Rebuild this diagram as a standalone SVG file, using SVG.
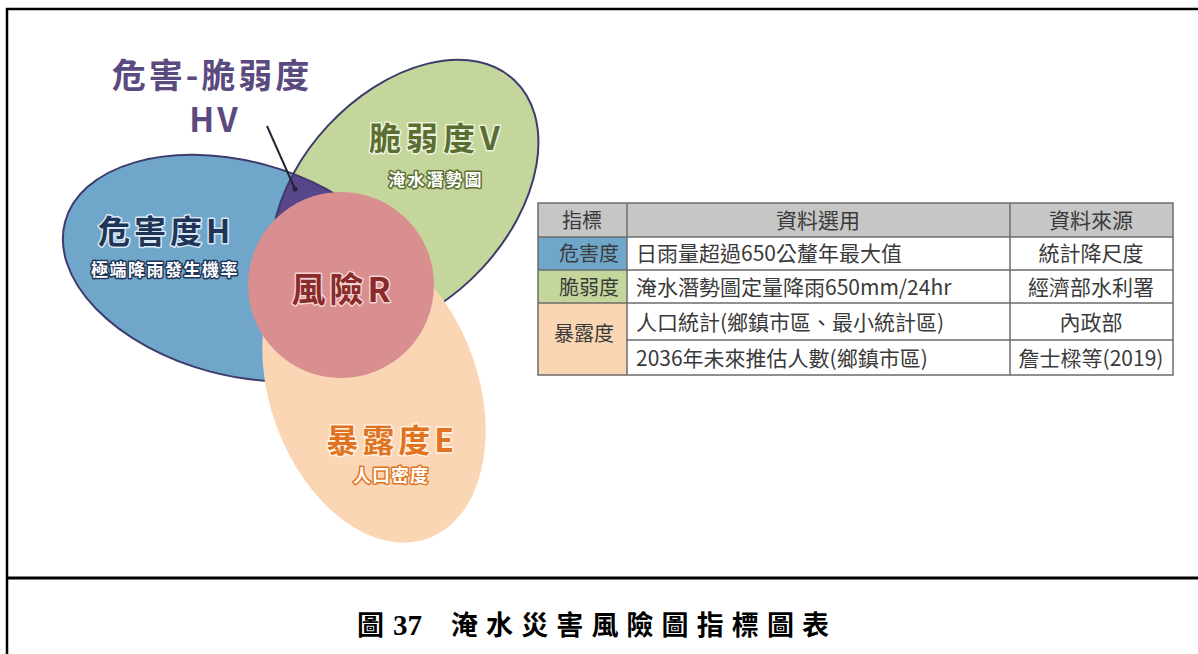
<svg xmlns="http://www.w3.org/2000/svg" width="1198" height="654" viewBox="0 0 1198 654">
<defs>
<style>
.big{font-family:"Noto Sans CJK TC","Noto Sans CJK SC",sans-serif;font-weight:700;text-anchor:middle;paint-order:stroke;stroke-linejoin:round;}
.small{font-family:"Noto Sans CJK TC","Noto Sans CJK SC",sans-serif;font-weight:700;text-anchor:middle;fill:#ffffff;paint-order:stroke;stroke-width:3;stroke-linejoin:round;}
.cell{font-family:"Noto Sans CJK TC","Noto Sans CJK SC",sans-serif;font-size:21px;fill:#3a3a3a;}
.c1{font-family:"Noto Sans CJK TC","Noto Sans CJK SC",sans-serif;font-size:20px;fill:#3a3a3a;text-anchor:middle;}
.grid{stroke:#6b6b6b;stroke-width:1.5;fill:none;}
.frame{stroke:#000;fill:none;}
</style>
<clipPath id="blueClip">
<ellipse cx="237" cy="268" rx="178" ry="107" transform="rotate(15 237 268)"/>
</clipPath>
</defs>

<g id="frame">
<line class="frame" x1="6" y1="9" x2="1198" y2="9" stroke-width="2.5"/>
<line class="frame" x1="7" y1="8" x2="7" y2="654" stroke-width="2.5"/>
<line class="frame" x1="6" y1="578" x2="1198" y2="578" stroke-width="3"/>
</g>

<g id="hazard">
<ellipse cx="237" cy="268" rx="178" ry="107" transform="rotate(15 237 268)" fill="#70a6ca"/>
</g>
<g id="vulnerability">
<ellipse cx="405" cy="197" rx="160" ry="105" transform="rotate(-47 405 197)" fill="#c4d69c"/>
</g>
<g id="hv-overlap" clip-path="url(#blueClip)">
<ellipse cx="405" cy="197" rx="160" ry="105" transform="rotate(-47 405 197)" fill="#574689"/>
</g>
<g id="outlines">
<ellipse cx="237" cy="268" rx="178" ry="107" transform="rotate(15 237 268)" fill="none" stroke="#3d3c6c" stroke-width="2"/>
<ellipse cx="405" cy="197" rx="160" ry="105" transform="rotate(-47 405 197)" fill="none" stroke="#3d3c6c" stroke-width="2"/>
</g>
<g id="exposure">
<ellipse cx="374" cy="390" rx="158" ry="104" transform="rotate(70 374 390)" fill="#fbd6b5"/>
</g>
<g id="risk">
<circle cx="341" cy="285" r="93" fill="#d98e8f"/>
</g>

<g id="connectors">
<line x1="267" y1="126" x2="295" y2="189" stroke="#262636" stroke-width="2"/>
<circle cx="295" cy="189" r="2.5" fill="#262636"/>
</g>

<g id="labels">
<text class="big" x="212" y="88" font-size="34" fill="#5b4a80" letter-spacing="3">危害-脆弱度</text>
<text class="big" x="215" y="132" font-size="33" fill="#5b4a80" letter-spacing="3">HV</text>
<text class="big" x="166" y="243" font-size="32" fill="#1f3557" stroke="#dbe9f3" stroke-width="3" letter-spacing="4">危害度H</text>
<text class="small" x="165" y="276" font-size="17" stroke="#1f3557" letter-spacing="1.5">極端降雨發生機率</text>
<text class="big" x="437" y="150" font-size="32" fill="#5a6e32" stroke="#eef3dd" stroke-width="3" letter-spacing="5">脆弱度V</text>
<text class="small" x="436" y="186" font-size="17" stroke="#5a6e32" letter-spacing="2">淹水潛勢圖</text>
<text class="big" x="343" y="302" font-size="34" fill="#8a2b2b" stroke="#f4d2d2" stroke-width="3" letter-spacing="4">風險R</text>
<text class="big" x="392" y="452" font-size="32" fill="#e0731f" stroke="#fff1e2" stroke-width="3" letter-spacing="4">暴露度E</text>
<text class="small" x="391" y="482" font-size="18" fill="#fde8d4" stroke="#e0731f" letter-spacing="1">人口密度</text>
</g>

<g id="table">
<rect x="538" y="203" width="635" height="34" fill="#c6c6c6"/>
<rect x="538" y="237" width="89" height="33" fill="#70a6ca"/>
<rect x="538" y="270" width="89" height="33" fill="#c4d69c"/>
<rect x="538" y="303" width="89" height="72" fill="#fbd6b5"/>
<rect x="627" y="237" width="546" height="138" fill="#ffffff"/>
<rect class="grid" x="538" y="203" width="635" height="172" stroke="#555"/>
<line class="grid" x1="538" y1="237" x2="1173" y2="237"/>
<line class="grid" x1="538" y1="270" x2="1173" y2="270"/>
<line class="grid" x1="538" y1="303" x2="1173" y2="303"/>
<line class="grid" x1="627" y1="340" x2="1173" y2="340"/>
<line class="grid" x1="627" y1="203" x2="627" y2="375"/>
<line class="grid" x1="1010" y1="203" x2="1010" y2="375"/>

<text class="c1" x="582" y="228">指標</text>
<text class="cell" x="818" y="228" text-anchor="middle">資料選用</text>
<text class="cell" x="1091" y="228" text-anchor="middle">資料來源</text>

<text class="c1" x="589" y="261">危害度</text>
<text class="cell" x="636" y="261">日雨量超過650公釐年最大值</text>
<text class="cell" x="1091" y="261" text-anchor="middle">統計降尺度</text>

<text class="c1" x="589" y="295">脆弱度</text>
<text class="cell" x="636" y="295">淹水潛勢圖定量降雨650mm/24hr</text>
<text class="cell" x="1091" y="295" text-anchor="middle">經濟部水利署</text>

<text class="c1" x="584" y="341">暴露度</text>
<text class="cell" x="636" y="330">人口統計(鄉鎮市區、最小統計區)</text>
<text class="cell" x="1091" y="330" text-anchor="middle">內政部</text>
<text class="cell" x="636" y="366">2036年未來推估人數(鄉鎮市區)</text>
<text class="cell" x="1091" y="366" text-anchor="middle">詹士樑等(2019)</text>
</g>

<g id="caption">
<text font-family="'Liberation Serif','Noto Sans CJK TC',serif" font-weight="700" fill="#000"><tspan x="357" y="635" font-size="27">圖</tspan><tspan x="393" y="635" font-size="29">37</tspan><tspan x="451" y="635" font-size="27" letter-spacing="8.1">淹水災害風險圖指標圖表</tspan></text>
</g>
</svg>
